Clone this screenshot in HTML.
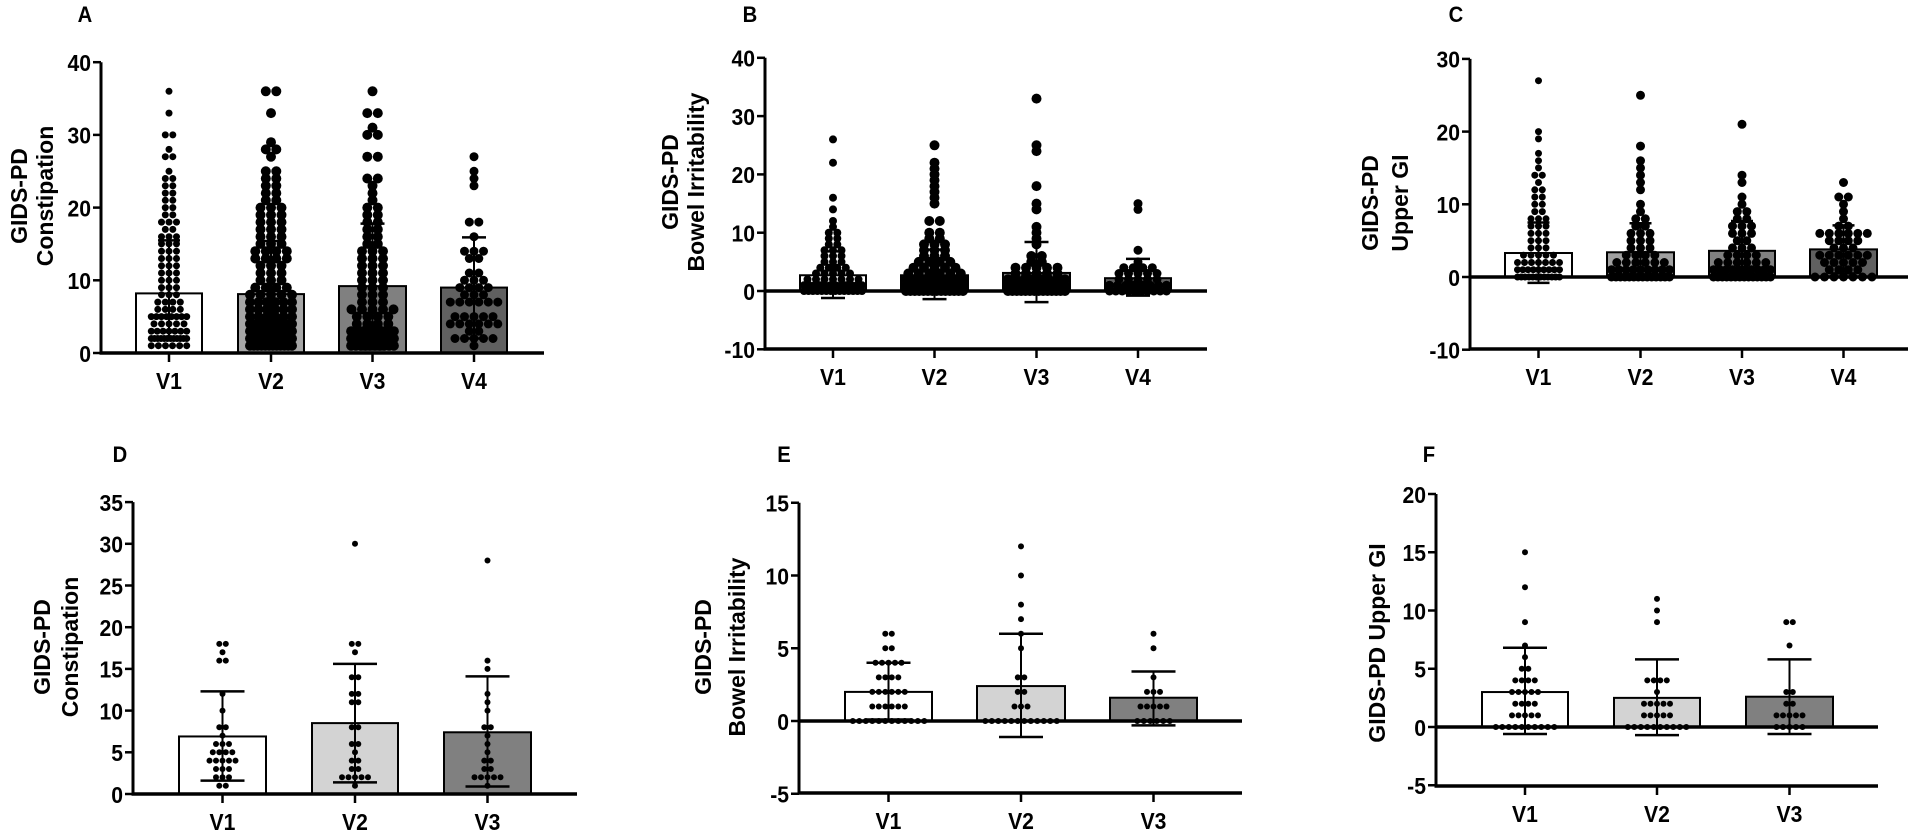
<!DOCTYPE html>
<html><head><meta charset="utf-8"><style>
html,body{margin:0;padding:0;background:#fff;}
svg text{font-family:"Liberation Sans",Arial,sans-serif;font-weight:bold;fill:#000;}
</style></head><body>
<svg id="s" width="1908" height="830" viewBox="0 0 1908 830" xmlns="http://www.w3.org/2000/svg"></svg>
<script>
const S=document.getElementById('s');let h='';
function L(x1,y1,x2,y2,w){h+=`<line x1="${x1}" y1="${y1}" x2="${x2}" y2="${y2}" stroke="#000" stroke-width="${w}"/>`;}
function T(x,y,t,sz,anc,rot,sx){const tr=rot?`transform="rotate(-90 ${x} ${y})"`:`transform="translate(${x} ${y}) scale(${sx||0.92} 1) translate(${-x} ${-y})"`;h+=`<text x="${x}" y="${y}" font-size="${sz}" text-anchor="${anc||'middle'}" ${tr} dominant-baseline="central">${t}</text>`;}
function panel(p){
 const Y=v=>p.y0-(v)*p.k;
 p.bars.forEach((b,i)=>{
  const top=Y(b.h), base=Y(0);
  h+=`<rect x="${b.l}" y="${Math.min(top,base)}" width="${b.r-b.l}" height="${Math.abs(base-top)}" fill="${b.f}" stroke="#000" stroke-width="2"/>`;
 });
 p.bars.forEach((b,i)=>{
  const c=(b.l+b.r)/2, r=b.rad, maxW=((b.r-b.l)-2*r)*(b.mw||1);
  (b.d||[]).forEach(([v,n])=>{
   let s=2*r+0.5; if(n>1&&(n-1)*s>maxW)s=maxW/(n-1);
   for(let j=0;j<n;j++){const x=c+(j-(n-1)/2)*s;h+=`<circle cx="${x.toFixed(1)}" cy="${Y(v).toFixed(1)}" r="${r}" fill="#000"/>`;}
  });
 });
 p.bars.forEach(b=>{
  const c=(b.l+b.r)/2,cw=b.cw||(b.r-b.l)*0.3;
  L(c,Y(b.hi),c,Y(b.lo),2);
  L(c-cw,Y(b.hi),c+cw,Y(b.hi),2.5);L(c-cw,Y(b.lo),c+cw,Y(b.lo),2.5);
  L(c,p.yb,c,p.yb+9,2.5);
  T(c,p.yb+28,b.n,23);
 });
 L(p.ax,Y(p.ticks[p.ticks.length-1]),p.ax,p.yb+1.5,3);
 L(p.ax-1.5,p.yb,p.xe,p.yb,3.5);
 if(p.zero)L(p.ax,Y(0),p.xe,Y(0),3.5);
 p.ticks.forEach(t=>{L(p.ax-8,Y(t),p.ax,Y(t),2.5);T(p.ax-10,Y(t)+1,t,23,'end');});
 T(p.lx,p.ly,p.L,22);
 p.title.forEach(([x,y,t])=>T(x,y,t,23,'middle',1));
}
panel({y0:353,k:7.27,ax:101,yb:353,xe:544,ticks:[0,10,20,30,40],lx:85,ly:15,L:'A',
 title:[[19,196,'GIDS-PD'],[45,196,'Constipation']],
 bars:[
 {n:'V1',l:136,r:202,h:8.2,hi:15.5,lo:2,f:'#fff',rad:3.5,cw:11,mw:0.6,d:[[36,1],[33,1],[30,2],[28,1],[27,2],[25,1],[24,2],[23,2],[22,2],[21,2],[20,2],[19,2],[18,3],[17,2],[16,3],[15,3],[14,3],[13,3],[12,3],[11,3],[10,3],[9,3],[8,3],[7,4],[6,4],[5,8],[4,5],[3,7],[2,12],[1,6]]},
 {n:'V2',l:238,r:304,h:8.1,hi:15.4,lo:1,f:'#a6a6a6',rad:5,cw:12,mw:0.75,d:[[36,2],[33,1],[29,1],[28,2],[27,1],[25,2],[24,2],[23,2],[22,2],[21,2],[20,3],[19,3],[18,3],[17,3],[16,3],[15,3],[14,4],[13,4],[12,3],[11,3],[10,3],[9,4],[8,5],[7,6],[6,6],[5,6],[4,8],[3,8],[2,12],[1,12]]},
 {n:'V3',l:339,r:406,h:9.2,hi:17.8,lo:0.5,f:'#808080',rad:5,cw:12,mw:0.75,d:[[36,1],[33,2],[31,1],[30,2],[27,2],[24,2],[23,1],[22,1],[21,1],[20,2],[19,2],[18,2],[17,2],[16,2],[15,2],[14,3],[13,3],[12,3],[11,3],[10,3],[9,3],[8,3],[7,3],[6,5],[5,4],[4,4],[3,12],[2,14],[1,10]]},
 {n:'V4',l:441,r:507,h:9.0,hi:15.9,lo:2,f:'#606060',rad:4.5,cw:12,d:[[27,1],[25,1],[24,1],[23,1],[18,2],[16,1],[14,3],[13,2],[11,2],[10,3],[9,4],[8,3],[7,6],[5,5],[4,6],[3,2],[2,5],[1,1]]}]});
panel({y0:291,k:5.83,ax:765,yb:349,xe:1207,zero:1,ticks:[-10,0,10,20,30,40],lx:750,ly:15,L:'B',
 title:[[670,182,'GIDS-PD'],[696,182,'Bowel Irritability']],
 bars:[
 {n:'V1',l:800,r:866,h:2.7,hi:6.8,lo:-1.2,f:'#fff',rad:4,cw:12,d:[[26,1],[22,1],[16,1],[14,1],[12,1],[11,1],[10,2],[9,2],[8,2],[7,3],[6,3],[5,3],[4,4],[3,5],[2,7],[1,12],[0,14]]},
 {n:'V2',l:901,r:968,h:2.7,hi:7.1,lo:-1.4,f:'#a0a0a0',rad:5,cw:12,d:[[25,1],[22,1],[21,1],[20,1],[19,1],[18,1],[17,1],[16,1],[15,1],[12,2],[10,2],[9,2],[8,3],[7,3],[6,3],[5,4],[4,5],[3,6],[2,8],[1,12],[0,14]]},
 {n:'V3',l:1003,r:1070,h:3.1,hi:8.4,lo:-1.9,f:'#808080',rad:5,cw:12,d:[[33,1],[25,1],[24,1],[18,1],[15,1],[14,1],[11,1],[10,1],[9,1],[8,1],[6,2],[5,2],[4,5],[3,5],[2,8],[1,12],[0,14]]},
 {n:'V4',l:1105,r:1171,h:2.2,hi:5.5,lo:-0.8,f:'#606060',rad:4.5,cw:12,d:[[15,1],[14,1],[7,1],[5,1],[4,4],[3,5],[2,5],[1,8],[0,10]]}]});
panel({y0:277,k:7.27,ax:1470,yb:349,xe:1908,zero:1,ticks:[-10,0,10,20,30],lx:1456,ly:15,L:'C',
 title:[[1370,203,'GIDS-PD'],[1400,203,'Upper GI']],
 bars:[
 {n:'V1',l:1505,r:1572,h:3.3,hi:7.5,lo:-0.8,f:'#fff',rad:3.5,cw:11,mw:0.7,d:[[27,1],[20,1],[19,1],[17,1],[16,1],[15,1],[14,2],[13,1],[12,2],[11,2],[10,2],[9,2],[8,3],[7,3],[6,3],[5,3],[4,3],[3,5],[2,7],[1,9],[0,12]]},
 {n:'V2',l:1607,r:1674,h:3.4,hi:7.4,lo:0,f:'#a0a0a0',rad:4.5,cw:11,d:[[25,1],[18,1],[16,1],[15,1],[14,1],[13,1],[12,1],[10,1],[9,1],[8,2],[7,2],[6,3],[5,3],[4,3],[3,4],[2,6],[1,9],[0,14]]},
 {n:'V3',l:1709,r:1775,h:3.6,hi:7.7,lo:0,f:'#808080',rad:4.5,cw:11,d:[[21,1],[14,1],[13,1],[11,1],[10,1],[9,2],[8,2],[7,3],[6,3],[5,2],[4,3],[3,4],[2,6],[1,10],[0,14]]},
 {n:'V4',l:1810,r:1877,h:3.8,hi:7.1,lo:0.5,f:'#606060',rad:4.5,cw:11,d:[[13,1],[11,2],[10,1],[9,1],[8,1],[7,2],[6,6],[5,4],[4,3],[3,6],[2,5],[1,4],[0,7]]}]});
panel({y0:794,k:8.34,ax:133,yb:794,xe:577,ticks:[0,5,10,15,20,25,30,35],lx:120,ly:455,L:'D',
 title:[[42,647,'GIDS-PD'],[70,647,'Constipation']],
 bars:[
 {n:'V1',l:179,r:266,h:6.9,hi:12.3,lo:1.6,f:'#fff',rad:3,cw:22,d:[[18,2],[17,1],[16,2],[12,1],[10,1],[8,2],[7,1],[6,3],[5,4],[4,5],[3,3],[2,3],[1,2]]},
 {n:'V2',l:312,r:398,h:8.5,hi:15.6,lo:1.4,f:'#d3d3d3',rad:3,cw:22,d:[[30,1],[18,2],[17,1],[14,2],[12,2],[11,2],[8,2],[6,2],[5,1],[4,2],[3,2],[2,5],[1,1]]},
 {n:'V3',l:444,r:531,h:7.4,hi:14.1,lo:0.9,f:'#808080',rad:3,cw:22,d:[[28,1],[16,1],[15,1],[12,1],[11,1],[10,1],[8,2],[7,1],[6,1],[5,1],[4,2],[3,2],[2,5],[1,1]]}]});
panel({y0:721,k:14.55,ax:799,yb:793,xe:1242,zero:1,ticks:[-5,0,5,10,15],lx:784,ly:455,L:'E',
 title:[[703,647,'GIDS-PD'],[737,647,'Bowel Irritability']],
 bars:[
 {n:'V1',l:845,r:932,h:2.0,hi:4.0,lo:0.1,f:'#fff',rad:3,cw:22,d:[[6,2],[5,2],[4,5],[3,4],[2,6],[1,6],[0,12]]},
 {n:'V2',l:977,r:1065,h:2.4,hi:6.0,lo:-1.1,f:'#d3d3d3',rad:3,cw:22,d:[[12,1],[10,1],[8,1],[7,1],[6,1],[5,1],[3,2],[2,2],[1,3],[0,12]]},
 {n:'V3',l:1110,r:1197,h:1.6,hi:3.4,lo:-0.3,f:'#808080',rad:3,cw:22,d:[[6,1],[5,1],[3,1],[2,3],[1,5],[0,6]]}]});
panel({y0:727,k:11.65,ax:1436,yb:786,xe:1878,zero:1,ticks:[-5,0,5,10,15,20],lx:1429,ly:455,L:'F',
 title:[[1377,643,'GIDS-PD Upper GI']],
 bars:[
 {n:'V1',l:1482,r:1568,h:3.0,hi:6.8,lo:-0.6,f:'#fff',rad:3,cw:22,d:[[15,1],[12,1],[9,1],[7,1],[6,1],[5,2],[4,4],[3,5],[2,4],[1,5],[0,10]]},
 {n:'V2',l:1614,r:1700,h:2.5,hi:5.8,lo:-0.7,f:'#d3d3d3',rad:3,cw:22,d:[[11,1],[10,1],[9,1],[4,4],[3,1],[2,5],[1,5],[0,10]]},
 {n:'V3',l:1746,r:1833,h:2.6,hi:5.8,lo:-0.6,f:'#808080',rad:3,cw:22,d:[[9,2],[7,1],[3,2],[2,2],[1,5],[0,5]]}]});
S.innerHTML=h;
</script>
</body></html>
